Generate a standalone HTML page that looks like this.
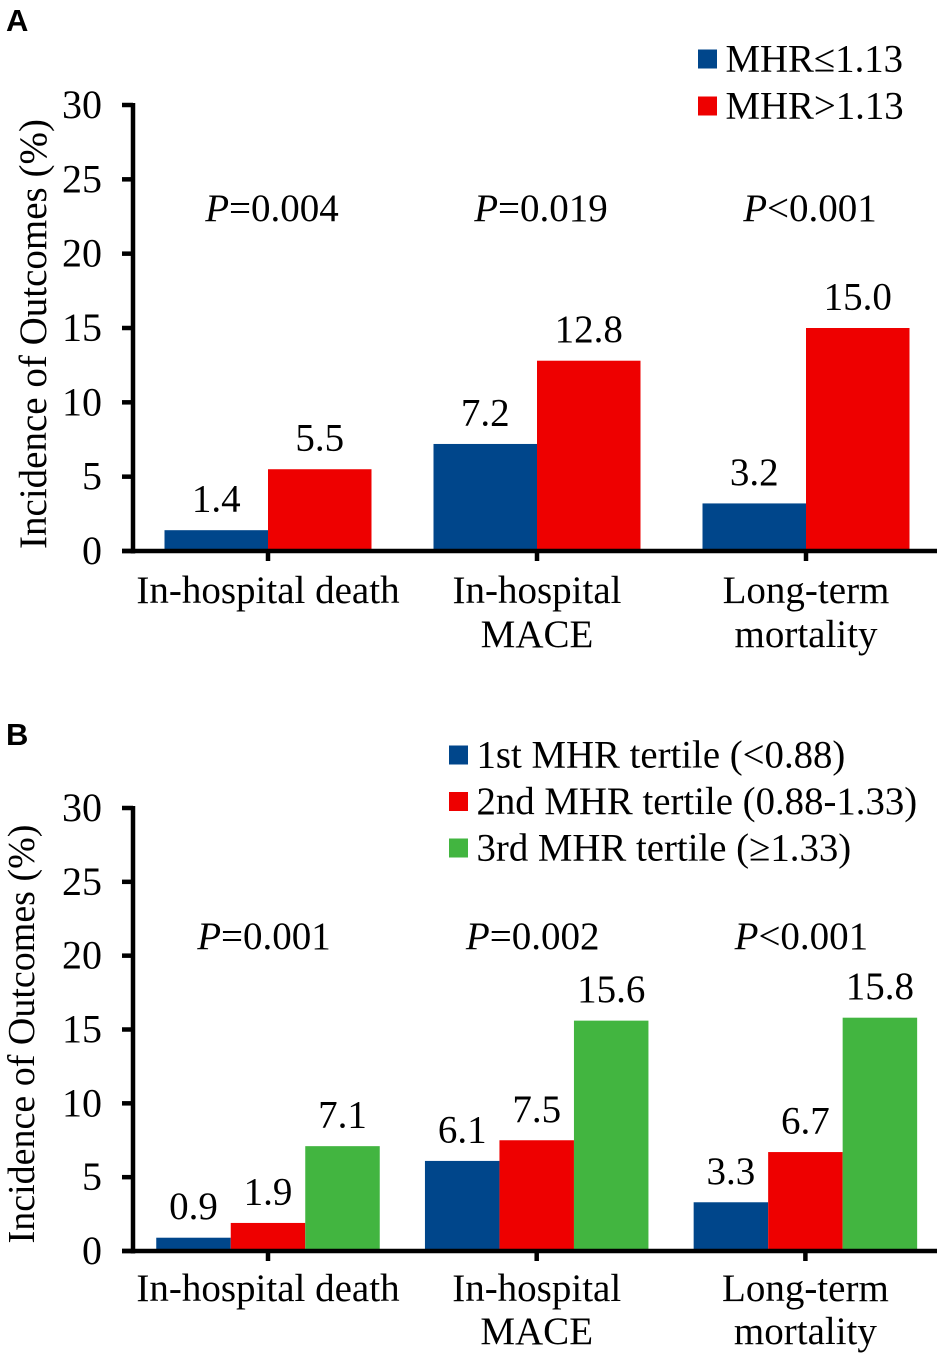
<!DOCTYPE html>
<html>
<head>
<meta charset="utf-8">
<style>
html,body{margin:0;padding:0;background:#fff;}
svg{display:block;}
text{font-family:"Liberation Serif",serif;fill:#000;font-size:39px;}
.panel{font-family:"Liberation Sans",sans-serif;font-weight:bold;font-size:31px;}
</style>
</head>
<body>
<svg id="chart" xmlns="http://www.w3.org/2000/svg" width="945" height="1360" viewBox="0 0 945 1360"></svg>
<script>
var categoriesLines = [["In-hospital death"], ["In-hospital", "MACE"], ["Long-term", "mortality"]];
var yTicks = [0, 5, 10, 15, 20, 25, 30];
var colors = ["#00468b", "#ee0000", "#42b540"];

var seriesALow = [1.4, 7.2, 3.2];
var seriesAHigh = [5.5, 12.8, 15.0];
var labelsA = ["MHR≤1.13", "MHR>1.13"];
var pLabelsA = ["=0.004", "=0.019", "<0.001"];

var seriesBFirst = [0.9, 6.1, 3.3];
var seriesBSecond = [1.9, 7.5, 6.7];
var seriesBThird = [7.1, 15.6, 15.8];
var labelsB = ["1st MHR tertile (<0.88)", "2nd MHR tertile (0.88-1.33)", "3rd MHR tertile (≥1.33)"];
var pLabelsB = ["=0.001", "=0.002", "<0.001"];

var svg = document.getElementById('chart');
var NS = 'http://www.w3.org/2000/svg';

function add(tag, attrs, text) {
  var el = document.createElementNS(NS, tag);
  for (var k in attrs) el.setAttribute(k, attrs[k]);
  if (text !== undefined) el.textContent = text;
  svg.appendChild(el);
  return el;
}

function drawPanel(cfg) {
  var n = cfg.series.length;
  function yScale(v) { return cfg.y0 + (cfg.y30 - cfg.y0) * v / 30; }
  function xCenter(i) { return cfg.firstCenter + i * cfg.step; }

  var letter = add('text', {x: 6, y: cfg.letterY, 'class': 'panel'}, cfg.letter);
  
  

  cfg.series.forEach(function (values, s) {
    values.forEach(function (v, i) {
      var x = xCenter(i) + (s - n / 2) * cfg.barW;
      var rect = add('rect', {x: x, y: yScale(v), width: cfg.barW, height: cfg.y0 - yScale(v), fill: colors[s]});
      
      
      var val = add('text', {x: x + cfg.barW / 2, y: yScale(v) - 18.5, 'text-anchor': 'middle'}, v.toFixed(1));
      
      
    });
  });

  var yAxis = add('line', {x1: 133, x2: 133, y1: cfg.y30 - 2, y2: cfg.y0 + 2.5, stroke: '#000', 'stroke-width': 4.5});
  
  
  var xAxis = add('line', {x1: 122, x2: 937, y1: cfg.y0, y2: cfg.y0, stroke: '#000', 'stroke-width': 4.5});
  
  

  yTicks.forEach(function (t) {
    var tick = add('line', {x1: 122, x2: 133, y1: yScale(t), y2: yScale(t), stroke: '#000', 'stroke-width': 4.5});
    
    
    var lab = add('text', {x: 102, y: yScale(t) + 13, 'text-anchor': 'end', style: 'font-size:40px'}, String(t));
    
    
  });

  var title = add('text', {x: 0, y: 0, 'text-anchor': 'middle', style: 'font-size:' + cfg.titleSize + 'px', transform: 'translate(' + cfg.titleX + ',' + cfg.titleY + ') rotate(-90)'}, 'Incidence of Outcomes (%)');
  
  

  categoriesLines.forEach(function (lines, i) {
    var tick = add('line', {x1: xCenter(i), x2: xCenter(i), y1: cfg.y0, y2: cfg.y0 + 10, stroke: '#000', 'stroke-width': 4.5});
    
    
    lines.forEach(function (line, j) {
      var lab = add('text', {x: xCenter(i), y: cfg.y0 + cfg.catOffset + j * cfg.catStep, 'text-anchor': 'middle'}, line);
      
      
    });
    var p = add('text', {x: xCenter(i) + cfg.pOffset, y: cfg.pY, 'text-anchor': 'middle'});
    
    
    var em = document.createElementNS(NS, 'tspan');
    em.setAttribute('font-style', 'italic');
    em.textContent = 'P';
    p.appendChild(em);
    p.appendChild(document.createTextNode(cfg.pLabels[i]));
  });

  cfg.legend.forEach(function (label, i) {
    var ly = cfg.legendY + i * cfg.legendStep;
    var sw = add('rect', {x: cfg.legendX, y: ly - 9.5, width: 19, height: 19, fill: colors[i]});
    
    
    var lab = add('text', {x: cfg.legendX + 27.5, y: ly + 12.5, style: 'font-size:38.8px'}, label);
    
    
  });
}

drawPanel({
  letter: 'A', letterY: 31, y0: 551, y30: 105, firstCenter: 268, step: 269, barW: 103.5, catOffset: 52, catStep: 44,
  series: [seriesALow, seriesAHigh], pLabels: pLabelsA, pY: 221, pOffset: 4,
  titleX: 46, titleY: 334, titleSize: 39, legend: labelsA, legendX: 698, legendY: 59, legendStep: 47
});
drawPanel({
  letter: 'B', letterY: 745, y0: 1251, y30: 808, firstCenter: 268, step: 268.7, barW: 74.5, catOffset: 50, catStep: 43,
  series: [seriesBFirst, seriesBSecond, seriesBThird], pLabels: pLabelsB, pY: 949, pOffset: -4,
  titleX: 34, titleY: 1034, titleSize: 38, legend: labelsB, legendX: 449, legendY: 755, legendStep: 46.5
});
</script>
</body>
</html>
